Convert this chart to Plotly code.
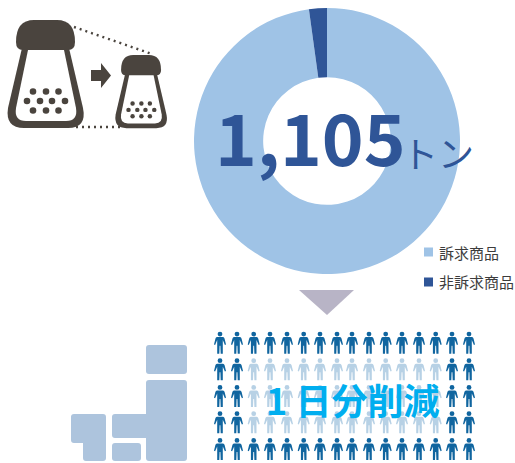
import plotly.graph_objects as go

# Tonnage split shown by the donut
categories = ["訴求商品", "非訴求商品"]
tonnage = [1081, 24]
slice_colors = ["#9fc3e6", "#2f5597"]
total_label = "1,105"
unit_label = "トン"
saving_label = "1 日分削減"

# Pictogram grid of people
column_x = [220, 237, 253.7, 270, 287, 303.7, 320, 337, 352, 369, 385.7, 402, 419, 435.7, 452, 469]
row_y = [342.7, 369.3, 396, 422.3, 449]
faded_rows = [1, 2, 3]
faded_columns = list(range(2, 14))

BROWN = "#4a443e"
DARK_PERSON = "#10659f"
LIGHT_PERSON = "#b7d1e5"
BLOCK = "#adc4dd"


def shape(path, color, **kw):
    return dict(type="path", path=path, fillcolor=color, line=dict(width=0),
                xref="x", yref="y", **kw)


def rounded(x0, y0, x1, y1, r):
    return (f"M{x0+r},{y0} L{x1-r},{y0} Q{x1},{y0} {x1},{y0+r} L{x1},{y1-r} Q{x1},{y1} {x1-r},{y1} "
            f"L{x0+r},{y1} Q{x0},{y1} {x0},{y1-r} L{x0},{y0+r} Q{x0},{y0} {x0+r},{y0} Z")


def circle(cx, cy, r):
    return dict(type="circle", x0=cx-r, x1=cx+r, y0=cy-r, y1=cy+r, xref="x", yref="y",
                line=dict(width=0))


def shaker(x, y, s):
    """Salt shaker drawn from the large icon's outline, moved and scaled."""
    X = lambda v: x + v * s
    Y = lambda v: y + v * s
    out = []
    # cap
    out.append(shape(
        f"M{X(16)},{Y(42)} Q{X(16)},{Y(20)} {X(34)},{Y(20)} L{X(57)},{Y(20)} Q{X(75)},{Y(20)} {X(75)},{Y(42)} "
        f"Q{X(75)},{Y(50)} {X(68)},{Y(50)} L{X(23)},{Y(50)} Q{X(16)},{Y(50)} {X(16)},{Y(42)} Z", BROWN))
    # jar outline
    out.append(shape(
        f"M{X(22)},{Y(48)} L{X(69)},{Y(48)} L{X(83)},{Y(108)} Q{X(87)},{Y(128)} {X(68)},{Y(128)} L{X(24)},{Y(128)} "
        f"Q{X(5)},{Y(128)} {X(8)},{Y(108)} Z", BROWN))
    # jar interior
    out.append(shape(
        f"M{X(28)},{Y(50)} L{X(64)},{Y(50)} L{X(76)},{Y(108)} Q{X(78)},{Y(121)} {X(66)},{Y(121)} L{X(26)},{Y(121)} "
        f"Q{X(14)},{Y(121)} {X(16)},{Y(108)} Z", "#ffffff"))
    # salt grains
    for gx, gy in [(33, 91.5), (46, 91.5), (58.5, 91.5),
                   (27, 101), (40, 101), (52, 101), (65, 101),
                   (33, 110.5), (46, 110.5), (58.5, 110.5)]:
        c = circle(X(gx), Y(gy), 3.3 * s)
        c["fillcolor"] = BROWN
        out.append(c)
    return out


def person(cx, cy, color):
    head = circle(cx, cy - 8.6, 2.4)
    head["fillcolor"] = color
    body = (f"M{cx-3},{cy-5.6} L{cx+3},{cy-5.6} Q{cx+4.2},{cy-5.6} {cx+4.6},{cy-4} L{cx+6},{cy+1.8} "
            f"L{cx+4.9},{cy+2.2} L{cx+2.8},{cy-2.6} L{cx+2.8},{cy+11} L{cx+0.7},{cy+11} L{cx+0.4},{cy+3} "
            f"L{cx-0.4},{cy+3} L{cx-0.7},{cy+11} L{cx-2.8},{cy+11} L{cx-2.8},{cy-2.6} L{cx-4.9},{cy+2.2} "
            f"L{cx-6},{cy+1.8} L{cx-4.6},{cy-4} Q{cx-4.2},{cy-5.6} {cx-3},{cy-5.6} Z")
    return [head, shape(body, color)]


shapes = []
shapes += shaker(0, 0, 1)
shapes += shaker(110.2, 41.4, 0.678)

# dotted guide lines between the two shakers
for x0, y0, x1, y1 in [(74, 27, 152, 54), (76, 127, 122, 127)]:
    shapes.append(dict(type="line", x0=x0, y0=y0, x1=x1, y1=y1, xref="x", yref="y",
                       line=dict(color=BROWN, width=2.4, dash="2px,4px")))

# arrow between the shakers
shapes.append(shape("M91,70 L101,70 L101,63 L111,75.5 L101,88 L101,81 L91,81 Z", BROWN))

# pointer under the donut
shapes.append(shape("M299,290 L354,290 L327,315 Z", "#b8b4c6"))

# legend swatches
for sy, col in zip([252, 282], slice_colors):
    shapes.append(dict(type="rect", x0=424, x1=433, y0=sy-4.5, y1=sy+4.5, xref="x", yref="y",
                       fillcolor=col, line=dict(width=0)))

# stacked block figure
shapes.append(shape(rounded(146, 345, 187, 374, 3), BLOCK))
shapes.append(shape(
    "M149,380 L184,380 Q187,380 187,383 L187,458 Q187,461 184,461 L149,461 Q146,461 146,458 L146,438 "
    "L115,438 Q112,438 112,435 L112,417 Q112,414 115,414 L146,414 L146,383 Q146,380 149,380 Z", BLOCK))
shapes.append(shape(rounded(112, 443, 141, 461, 3), BLOCK))
shapes.append(shape(
    "M74,414 L103,414 Q106,414 106,417 L106,458 Q106,461 103,461 L86,461 Q83,461 83,458 L83,443 "
    "L74,443 Q71,443 71,440 L71,417 Q71,414 74,414 Z", BLOCK))

# people grid
for r, py in enumerate(row_y):
    for c, px in enumerate(column_x):
        faded = r in faded_rows and c in faded_columns
        shapes += person(px, py, LIGHT_PERSON if faded else DARK_PERSON)

JP = "Noto Sans CJK JP"
annotations = [
    dict(x=310, y=135, text=f"<b>{total_label}</b>", font=dict(size=71, color=slice_colors[1], family=JP)),
    dict(x=438, y=152, text=unit_label, font=dict(size=36, color=slice_colors[1], family=JP)),
    dict(x=352, y=399, text=f"<b>{saving_label}</b>", font=dict(size=36, color="#00aeef", family=JP)),
    dict(x=437, y=252, xanchor="left", text=categories[0], font=dict(size=15, color="#3c3c3c", family=JP)),
    dict(x=437, y=281, xanchor="left", text=categories[1], font=dict(size=15, color="#3c3c3c", family=JP)),
]
for a in annotations:
    a.update(xref="x", yref="y", showarrow=False)
    a.setdefault("xanchor", "center")
    a["yanchor"] = "middle"

fig = go.Figure()
fig.add_trace(go.Pie(
    labels=categories, values=tonnage, hole=0.48, sort=False, direction="clockwise",
    rotation=0, textinfo="none", hoverinfo="label+value", showlegend=False,
    marker=dict(colors=slice_colors, line=dict(width=0)),
    domain=dict(x=[194/515, 460/515], y=[1-274/463, 1-8/463]),
))
# invisible trace so the pixel-based axes exist for shapes and annotations
fig.add_trace(go.Scatter(x=[0, 515], y=[0, 463], mode="markers", marker=dict(opacity=0),
                         showlegend=False, hoverinfo="skip"))
fig.update_layout(
    width=515, height=463, margin=dict(l=0, r=0, t=0, b=0),
    paper_bgcolor="#ffffff", plot_bgcolor="rgba(0,0,0,0)",
    xaxis=dict(range=[0, 515], visible=False, fixedrange=True),
    yaxis=dict(range=[463, 0], visible=False, fixedrange=True),
    shapes=shapes, annotations=annotations,
)
fig.write_html("out.html")
